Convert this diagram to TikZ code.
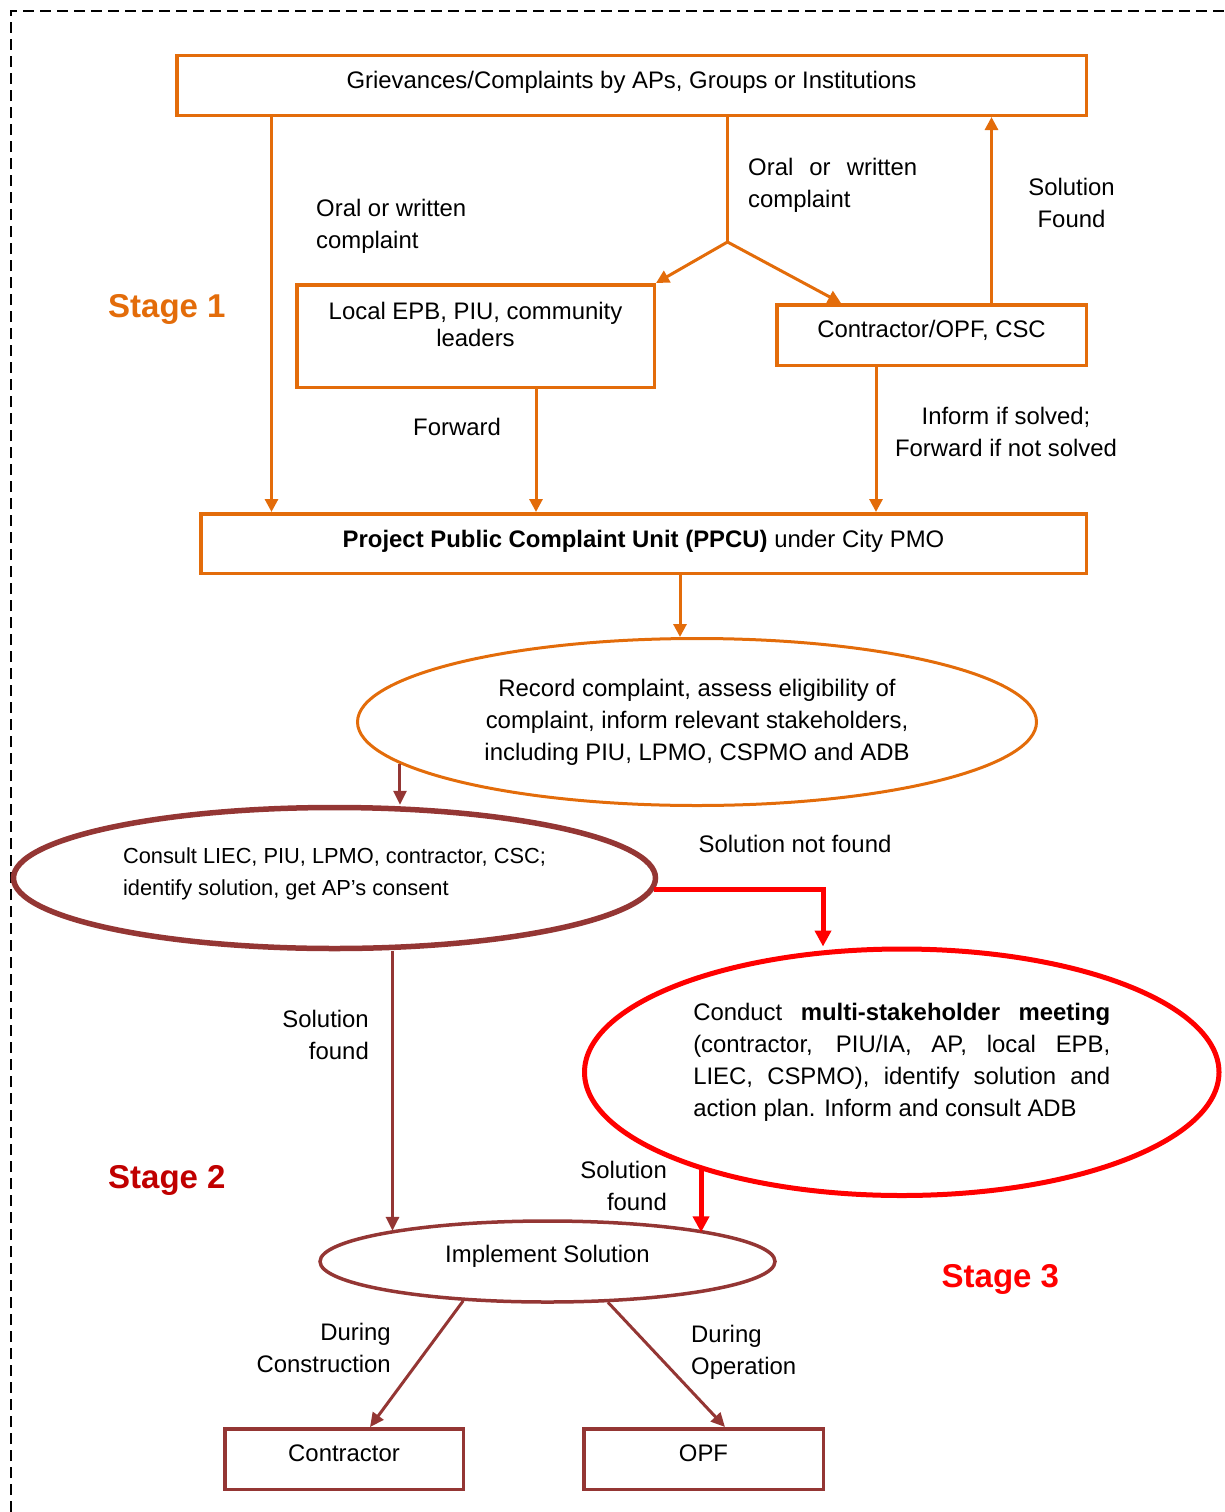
\documentclass[tikz,border=0pt]{standalone}
\usepackage{fontspec}
\setmainfont{Liberation Sans}
\usetikzlibrary{shapes.geometric,arrows.meta}
\definecolor{orng}{HTML}{E36C0A}
\definecolor{brwn}{HTML}{943634}
\definecolor{dred}{HTML}{C00000}
\definecolor{bred}{HTML}{FF0000}
\newcommand{\mainfnt}{\fontsize{23.9}{32}\selectfont}
\newcommand{\consfnt}{\fontsize{21.8}{32}\selectfont}
\newcommand{\liftby}[2]{\raisebox{#1}[0pt][0pt]{#2}}
\begin{document}
\begin{tikzpicture}[x=1pt,y=-1pt,
  obox/.style={draw=orng, line width=3.5pt, rectangle, inner sep=0pt, font=\mainfnt},
  bbox/.style={draw=brwn, line width=3.5pt, rectangle, inner sep=0pt, font=\mainfnt},
  ell/.style={ellipse, inner sep=0pt, font=\mainfnt},
  lbl/.style={inner sep=0pt, font=\mainfnt},
  stg/.style={inner sep=0pt, font=\fontsize{33}{40}\selectfont\bfseries, anchor=base west},
  oline/.style={draw=orng, line width=3pt},
  oarr/.style={oline, -{Triangle[length=13pt,width=13pt]}},
  barr/.style={draw=brwn, line width=3pt, -{Triangle[length=14pt,width=13pt]}},
  rarr/.style={draw=bred, line width=5pt, -{Triangle[length=16pt,width=16pt]}}
]
\useasboundingbox (0,0) rectangle (1225,1512);
\draw[line width=2.5pt, dash pattern=on 11pt off 6pt] (11,1512) -- (11,11) -- (1225,11);

% boxes and ellipses
\node[obox, minimum width=909.5pt, minimum height=59.5pt] (G) at (631.5,85.5)
  {\liftby{-2.9pt}{Grievances/Complaints by APs, Groups or Institutions}};
\node[obox, minimum width=357.5pt, minimum height=102.5pt] (L) at (475.5,336)
  {\liftby{16.6pt}{\fontsize{23.9}{27}\selectfont\begin{tabular}[t]{@{}c@{}}Local EPB, PIU, community\\leaders\end{tabular}}};
\node[obox, minimum width=309.5pt, minimum height=60.5pt] (C) at (931.5,335)
  {\liftby{-2.4pt}{Contractor/OPF, CSC}};
\node[obox, minimum width=885.5pt, minimum height=59.5pt] (P) at (643.5,543.5)
  {\liftby{-3.5pt}{\textbf{Project Public Complaint Unit (PPCU)} under City PMO}};
\node[ell, draw=orng, line width=3pt, minimum width=679pt, minimum height=167pt] (R) at (697,722)
  {\liftby{25.6pt}{\begin{tabular}[t]{@{}c@{}}Record complaint, assess eligibility of\\complaint, inform relevant stakeholders,\\including PIU, LPMO, CSPMO and ADB\end{tabular}}};
\node[ell, draw=brwn, line width=5.5pt, minimum width=642pt, minimum height=141pt, font=\consfnt] (K) at (334.5,878)
  {\liftby{14.8pt}{\begin{tabular}[t]{@{}l@{}}Consult LIEC, PIU, LPMO, contractor, CSC;\\identify solution, get AP’s consent\end{tabular}}};
\node[ell, draw=bred, line width=5pt, minimum width=634.5pt, minimum height=246.5pt] (M) at (901.75,1072.25)
  {\liftby{51.35pt}{\begin{tabular}[t]{@{}l@{}}\makebox[417pt][s]{Conduct \textbf{multi-stakeholder meeting}}\\
   \makebox[417pt][s]{(contractor, PIU/IA, AP, local EPB,}\\
   \makebox[417pt][s]{LIEC, CSPMO), identify solution and}\\
   action plan. Inform and consult ADB\end{tabular}}};
\node[ell, draw=brwn, line width=3.5pt, minimum width=455pt, minimum height=81pt] (I) at (547.5,1261.5)
  {\liftby{-1.4pt}{Implement Solution}};
\node[bbox, minimum width=238.5pt, minimum height=60.5pt] (Ct) at (344,1459) {\liftby{-2pt}{Contractor}};
\node[bbox, minimum width=239.5pt, minimum height=60.5pt] (O) at (703.5,1459) {\liftby{-2pt}{OPF}};

% stage labels
\node[stg, text=orng] (s1) at (108,317) {Stage 1};
\node[stg, text=dred] (s2) at (108,1188) {Stage 2};
\node[stg, text=bred] (s3) at (941.5,1287) {Stage 3};

% connector labels
\node[lbl, anchor=base west] (t1) at (316,216.5) {\begin{tabular}[t]{@{}l@{}}Oral or written\\complaint\end{tabular}};
\node[lbl, anchor=base west] (t2) at (748,175) {\begin{tabular}[t]{@{}l@{}}\makebox[169pt][s]{Oral or written}\\complaint\end{tabular}};
\node[lbl, anchor=base] (t3) at (1071.5,195) {\begin{tabular}[t]{@{}c@{}}Solution\\Found\end{tabular}};
\node[lbl, anchor=base west] (t4) at (413,435) {Forward};
\node[lbl, anchor=base] (t5) at (1006,424.5) {\begin{tabular}[t]{@{}c@{}}Inform if solved;\\Forward if not solved\end{tabular}};
\node[lbl, anchor=base west] (t6) at (698.5,852) {Solution not found};
\node[lbl, anchor=base east] (t7) at (369,1027.5) {\begin{tabular}[t]{@{}r@{}}Solution\\found\end{tabular}};
\node[lbl, anchor=base east] (t8) at (667,1178.5) {\begin{tabular}[t]{@{}r@{}}Solution\\found\end{tabular}};
\node[lbl, anchor=base east] (t9) at (391,1340.5) {\begin{tabular}[t]{@{}r@{}}During\\Construction\end{tabular}};
\node[lbl, anchor=base west] (t10) at (691,1342.5) {\begin{tabular}[t]{@{}l@{}}During\\Operation\end{tabular}};

% helper coordinates
\coordinate (xa) at (271.5,0);
\coordinate (fork) at (727.5,242);
\coordinate (xc) at (841,0);
\coordinate (xs) at (991.5,0);
\coordinate (xf) at (536,0);
\coordinate (xi) at (876,0);
\coordinate (xp) at (680,0);
\coordinate (xm) at (823,0);
\coordinate (xb) at (392.5,0);
\coordinate (xct) at (370,0);
\coordinate (xo) at (725,0);

% connectors
\draw[oarr] (G.south -| xa) -- (P.north -| xa);
\draw[oline] (G.south -| fork) -- (fork);
\draw[oarr] (fork) -- (L.north east);
\draw[oarr] (fork) -- (C.north -| xc);
\draw[oarr] (C.north -| xs) -- (G.south -| xs);
\draw[oarr] (L.south -| xf) -- (P.north -| xf);
\draw[oarr] (C.south -| xi) -- (P.north -| xi);
\draw[oarr] (P.south -| xp) -- (R.north -| xp);
\draw[barr] (R.188.8) -- (K.north -| R.188.8);
\draw[rarr] (K.-2.2) -| (M.north -| xm);
\draw[barr] (K.south -| xb) -- (xb |- I.169.15);
\draw[rarr] (M.206.3) -- (M.206.3 |- I.10.9);
\draw[barr] (I.205.5) -- (Ct.north -| xct);
\draw[barr] (I.-34.8) -- (O.north -| xo);
\end{tikzpicture}
\end{document}
